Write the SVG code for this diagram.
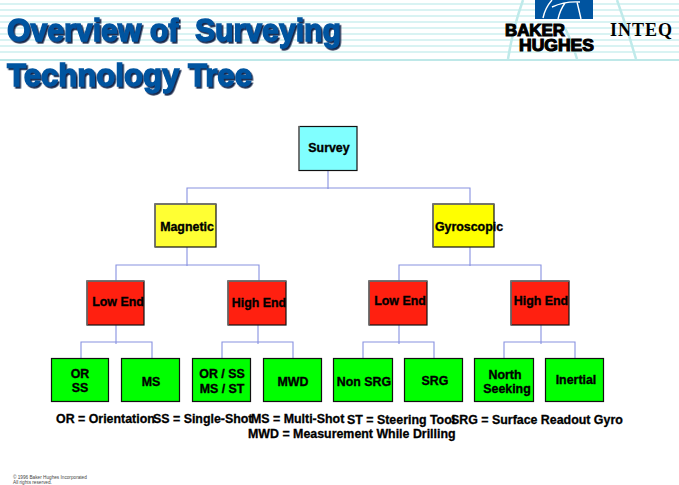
<svg xmlns="http://www.w3.org/2000/svg" width="679" height="485" viewBox="0 0 679 485">
<defs>
<filter id="ds" x="-5%" y="-10%" width="110%" height="125%"><feDropShadow dx="1.6" dy="1.8" stdDeviation="0.3" flood-color="#12284a"/></filter>
</defs>
<style>
.n{stroke:#111;stroke-width:1.2}
.l{font-family:"Liberation Sans",Arial,sans-serif;font-weight:700;font-size:12.4px;text-anchor:middle;fill:#000;stroke:#000;stroke-width:.35}
.k{font-family:"Liberation Sans",Arial,sans-serif;font-weight:700;font-size:12.4px;fill:#000;stroke:#000;stroke-width:.3}
.t{font-family:"Liberation Sans",Arial,sans-serif;font-weight:700;font-size:31px;fill:#0054a0;stroke:#0054a0;stroke-width:1.3;filter:url(#ds)}
.c{stroke:#8791e0;stroke-width:1.1;fill:none}
.r{stroke:#cdeff0;stroke-width:1.5}
.b{font-family:"Liberation Sans",Arial,sans-serif;font-weight:700;font-size:17px;fill:#000;stroke:#000;stroke-width:1.1}
.g{stroke:#777;stroke-width:1.4;fill:none}
</style>
<rect width="679" height="485" fill="#fff"/>
<g id="background">
<path class="r" d="M0 4H679M0 10H679M0 16H679M0 22H679M0 28H679M0 34H679M0 40H679M0 46H679M0 52H679"/>
<path d="M0 60H679" stroke="#a8e0e0" stroke-width="1.6"/>
<path d="M523 0Q513 28 508 59M617 0Q628 30 636 59M565 28Q572 42 577 59" stroke="#bfeaea" stroke-width="2.5" fill="none"/>
</g>
<g id="title">
<text class="t" x="7" y="41" textLength="334" lengthAdjust="spacingAndGlyphs" xml:space="preserve">Overview of  Surveying</text>
<text class="t" x="7" y="86" textLength="245" lengthAdjust="spacingAndGlyphs">Technology Tree</text>
</g>
<g id="logo">
<rect x="535" y="0" width="58" height="19" fill="#0054a0"/>
<path d="M552 0Q545 8 543 18M565 3Q560 10 558 19M552 7Q565 1 580 2M577 2Q579 10 581 19" stroke="#fff" stroke-width="1.4" fill="none"/>
<text class="b" x="505" y="36" textLength="60" lengthAdjust="spacingAndGlyphs">BAKER</text>
<text class="b" x="519" y="51" textLength="75" lengthAdjust="spacingAndGlyphs">HUGHES</text>
<text x="610" y="36" font-family="'Liberation Serif',serif" font-weight="700" font-size="18" textLength="62" lengthAdjust="spacing">INTEQ</text>
</g>
<g id="connectors">
<path class="c" d="M328 170V189M187 203V188H470V203"/>
<path class="c" d="M187 247V266M116 281V265H259V281"/>
<path class="c" d="M470 247V266M399 281V265H541V281"/>
<path class="c" d="M116 325V344M81 358V342H152V358"/>
<path class="c" d="M258 325V344M222 358V342H293V358"/>
<path class="c" d="M399 325V344M363 358V342H434V358"/>
<path class="c" d="M541 325V344M504 358V342H575V358"/>
</g>
<g id="survey"><rect class="n" x="299" y="126.500" width="58" height="44" fill="#80ffff"/><path class="g" d="M299 170V126"/><text class="l" x="329" y="152">Survey</text></g>
<g id="magnetic"><rect class="n" x="155" y="204" width="61" height="43" fill="#ffff33"/><path class="g" d="M155 247V204H216"/><text class="l" x="187" y="231">Magnetic</text></g>
<g id="gyroscopic"><rect class="n" x="433" y="204" width="61" height="43" fill="#ffff00"/><path class="g" d="M433 247V204H494"/><text class="l" x="469" y="231">Gyroscopic</text></g>
<g id="low-end-1"><rect class="n" x="87" y="281" width="57" height="44" fill="#ff2010"/><path class="g" d="M87 325V281H144"/><text class="l" x="118" y="306">Low End</text></g>
<g id="high-end-1"><rect class="n" x="228" y="281" width="58" height="44" fill="#ff2010"/><path class="g" d="M228 325V281H286"/><text class="l" x="259" y="307">High End</text></g>
<g id="low-end-2"><rect class="n" x="369" y="281" width="58" height="44" fill="#ff2010"/><path class="g" d="M369 325V281H427"/><text class="l" x="400" y="305">Low End</text></g>
<g id="high-end-2"><rect class="n" x="511" y="281" width="58" height="44" fill="#ff2010"/><path class="g" d="M511 325V281H569"/><text class="l" x="541" y="305">High End</text></g>
<g id="or-ss"><rect class="n" x="51.500" y="358.500" width="57" height="43" fill="#00ff00"/><text class="l" x="80" y="378">OR</text><text class="l" x="80" y="392">SS</text></g>
<g id="ms"><rect class="n" x="121.500" y="358.500" width="58" height="43" fill="#00ff00"/><text class="l" x="151" y="386">MS</text></g>
<g id="or-ss-ms-st"><rect class="n" x="192.500" y="358.500" width="58" height="43" fill="#00ff00"/><text class="l" x="222" y="378">OR / SS</text><text class="l" x="222" y="393">MS / ST</text></g>
<g id="mwd"><rect class="n" x="263.500" y="358.500" width="58" height="43" fill="#00ff00"/><text class="l" x="293" y="386">MWD</text></g>
<g id="non-srg"><rect class="n" x="333.500" y="358.500" width="59" height="43" fill="#00ff00"/><text class="l" x="364" y="386">Non SRG</text></g>
<g id="srg"><rect class="n" x="404.500" y="358.500" width="58" height="43" fill="#00ff00"/><text class="l" x="435" y="385">SRG</text></g>
<g id="north-seeking"><rect class="n" x="474.500" y="358.500" width="59" height="43" fill="#00ff00"/><text class="l" x="505" y="379">North</text><text class="l" x="507" y="393">Seeking</text></g>
<g id="inertial"><rect class="n" x="545.500" y="358.500" width="58" height="43" fill="#00ff00"/><text class="l" x="576" y="384">Inertial</text></g>
<g id="legend">
<text class="k" x="56" y="423">OR = Orientation</text>
<text class="k" x="153" y="423">SS = Single-Shot</text>
<text class="k" x="251" y="423">MS = Multi-Shot</text>
<text class="k" x="347" y="424">ST = Steering Tool</text>
<text class="k" x="451" y="424">SRG = Surface Readout Gyro</text>
<text class="k" x="248" y="438">MWD = Measurement While Drilling</text>
</g>
<g id="copyright" font-family="'Liberation Sans',Arial,sans-serif" font-size="4.700" fill="#444">
<text x="13" y="479">© 1996 Baker Hughes Incorporated</text>
<text x="13" y="484">All rights reserved.</text>
</g>
</svg>
